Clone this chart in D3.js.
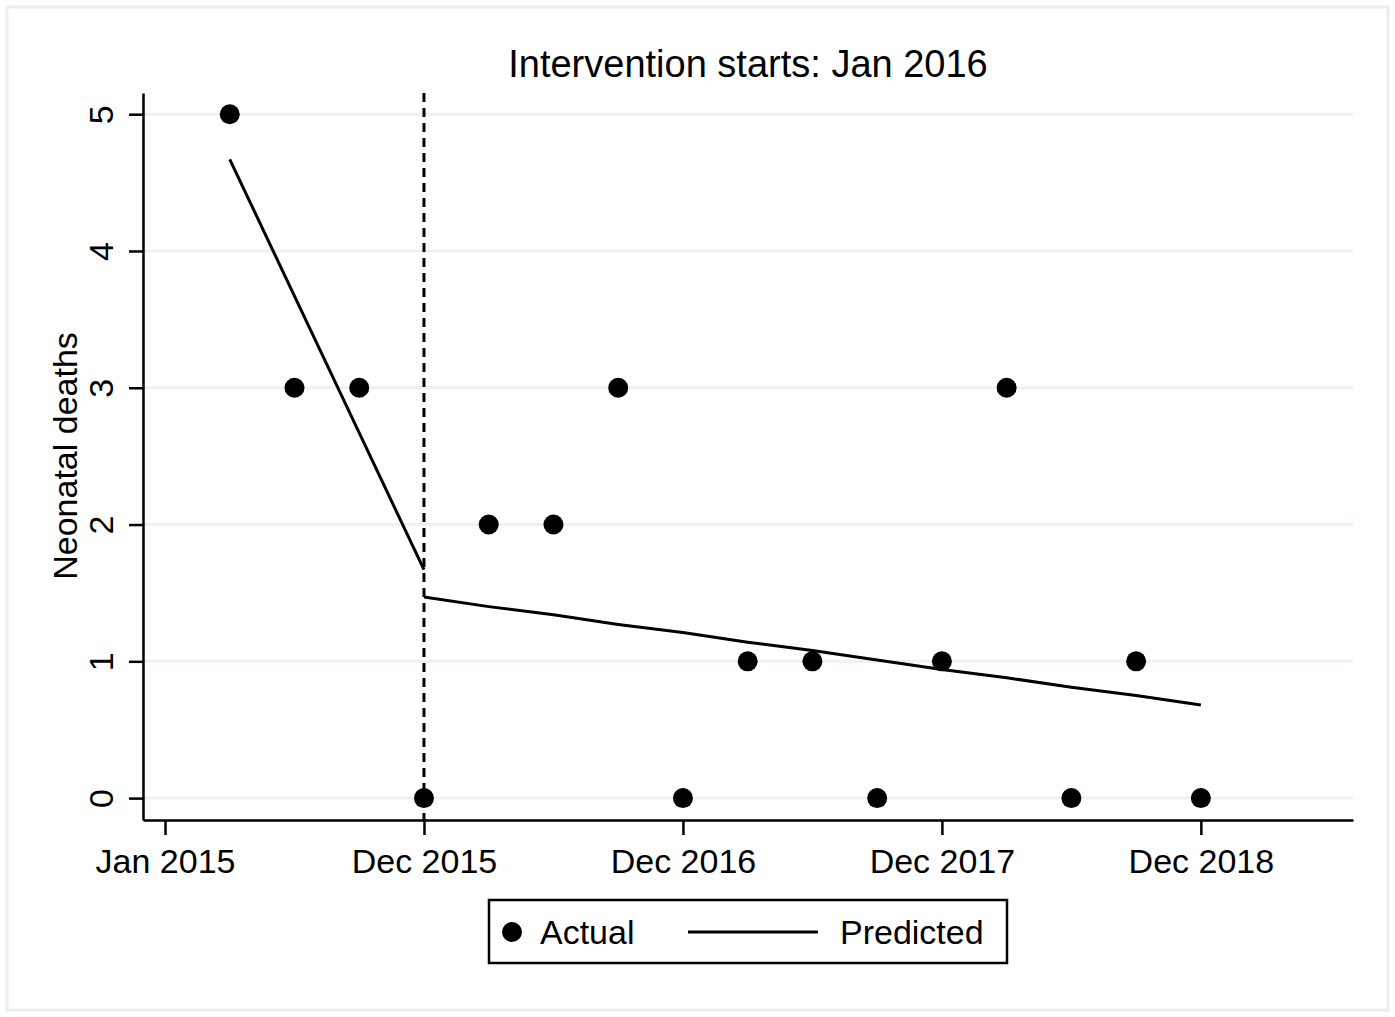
<!DOCTYPE html>
<html lang="en">
<head>
  <meta charset="UTF-8">
  <title>Intervention starts: Jan 2016</title>
  <script src="https://cdnjs.cloudflare.com/ajax/libs/d3/7.8.5/d3.min.js"></script>
  <style>
    body { margin: 0; background: #fff; }
    svg { font-family: "Liberation Sans", Arial, sans-serif; }
  </style>
</head>
<body>
  <svg></svg>
  <script>
    // quarter index (0 = Jan 2015) and neonatal deaths
    const quarters = [1, 2, 3, 4, 5, 6, 7, 8, 9, 10, 11, 12, 13, 14, 15, 16];
    const actual = [5, 3, 3, 0, 2, 2, 3, 0, 1, 1, 0, 1, 3, 0, 1, 0];

    // predicted, before and after the intervention
    const preQuarters = [1, 2, 3, 4];
    const prePredicted = [4.67, 3.67, 2.67, 1.67];
    const postQuarters = [4, 5, 6, 7, 8, 9, 10, 11, 12, 13, 14, 15, 16];
    const postPredicted = [1.47, 1.40, 1.34, 1.27, 1.21, 1.14, 1.08, 1.01, 0.94, 0.88, 0.81, 0.75, 0.68];

    const xTicks = [0, 4, 8, 12, 16];
    const xTickLabels = ['Jan 2015', 'Dec 2015', 'Dec 2016', 'Dec 2017', 'Dec 2018'];
    const yTicks = [0, 1, 2, 3, 4, 5];
    const interventionAt = 4;

    const W = 1395, H = 1017;
    const svg = d3.select('svg').attr('width', W).attr('height', H);

    // outer frame
    svg.append('rect')
      .attr('x', 7).attr('y', 7).attr('width', 1381).attr('height', 1003)
      .attr('fill', '#fff').attr('stroke', '#e8f0f1').attr('stroke-width', 3);

    const x = d3.scaleLinear().domain([-0.34, 18.35]).range([143, 1353]);
    const y = d3.scaleLinear().domain([-0.16, 5.155]).range([820, 93]);

    // grid
    svg.append('g').selectAll('line')
      .data(yTicks)
      .join('line')
      .attr('x1', 143).attr('x2', 1353)
      .attr('y1', d => y(d)).attr('y2', d => y(d))
      .attr('stroke', '#eaf2f3').attr('stroke-width', 3);

    // axes
    const yAxis = svg.append('g')
      .attr('transform', 'translate(143,0)')
      .call(d3.axisLeft(y).tickValues(yTicks).tickFormat(d3.format('d'))
        .tickSize(14).tickPadding(0).tickSizeOuter(0));
    yAxis.select('.domain').attr('stroke', '#000').attr('stroke-width', 2.5);
    yAxis.selectAll('.tick line').attr('stroke', '#000').attr('stroke-width', 2.5);
    yAxis.selectAll('.tick text')
      .attr('x', 0).attr('dy', 0)
      .attr('transform', 'translate(-30,0) rotate(-90)')
      .attr('text-anchor', 'middle')
      .attr('font-size', 34)
      .attr('font-family', '"Liberation Sans", Arial, sans-serif')
      .attr('fill', '#000');

    const xAxis = svg.append('g')
      .attr('transform', 'translate(0,820)')
      .call(d3.axisBottom(x).tickValues(xTicks).tickFormat((d, i) => xTickLabels[i])
        .tickSize(15).tickPadding(0).tickSizeOuter(0));
    xAxis.select('.domain').attr('stroke', '#000').attr('stroke-width', 2.5);
    xAxis.selectAll('.tick line').attr('stroke', '#000').attr('stroke-width', 2.5);
    xAxis.selectAll('.tick text')
      .attr('y', 53).attr('dy', 0)
      .attr('font-size', 34)
      .attr('font-family', '"Liberation Sans", Arial, sans-serif')
      .attr('fill', '#000');

    // intervention line
    svg.append('line')
      .attr('x1', x(interventionAt)).attr('x2', x(interventionAt))
      .attr('y1', 93).attr('y2', 820)
      .attr('stroke', '#000').attr('stroke-width', 3)
      .attr('stroke-dasharray', '9,6');

    // predicted lines
    const line = d3.line().x(d => x(d[0])).y(d => y(d[1]));
    [[preQuarters, prePredicted], [postQuarters, postPredicted]].forEach(([qs, vs]) => {
      svg.append('path')
        .datum(qs.map((q, i) => [q, vs[i]]))
        .attr('d', line)
        .attr('fill', 'none').attr('stroke', '#000').attr('stroke-width', 3);
    });

    // actual points
    svg.append('g').selectAll('circle')
      .data(quarters.map((q, i) => [q, actual[i]]))
      .join('circle')
      .attr('cx', d => x(d[0])).attr('cy', d => y(d[1]))
      .attr('r', 10).attr('fill', '#000');

    // titles
    svg.append('text')
      .attr('x', 748).attr('y', 77)
      .attr('text-anchor', 'middle').attr('font-size', 38)
      .text('Intervention starts: Jan 2016');

    svg.append('text')
      .attr('transform', 'translate(77,456) rotate(-90)')
      .attr('text-anchor', 'middle').attr('font-size', 34)
      .text('Neonatal deaths');

    // legend
    const lg = svg.append('g');
    lg.append('rect')
      .attr('x', 489).attr('y', 900).attr('width', 518).attr('height', 63)
      .attr('fill', '#fff').attr('stroke', '#000').attr('stroke-width', 2.5);
    lg.append('circle').attr('cx', 512).attr('cy', 932).attr('r', 10).attr('fill', '#000');
    lg.append('text').attr('x', 540).attr('y', 944).attr('font-size', 34).text('Actual');
    lg.append('line').attr('x1', 688).attr('x2', 818).attr('y1', 932).attr('y2', 932)
      .attr('stroke', '#000').attr('stroke-width', 3);
    lg.append('text').attr('x', 840).attr('y', 944).attr('font-size', 34).text('Predicted');
  </script>
</body>
</html>
